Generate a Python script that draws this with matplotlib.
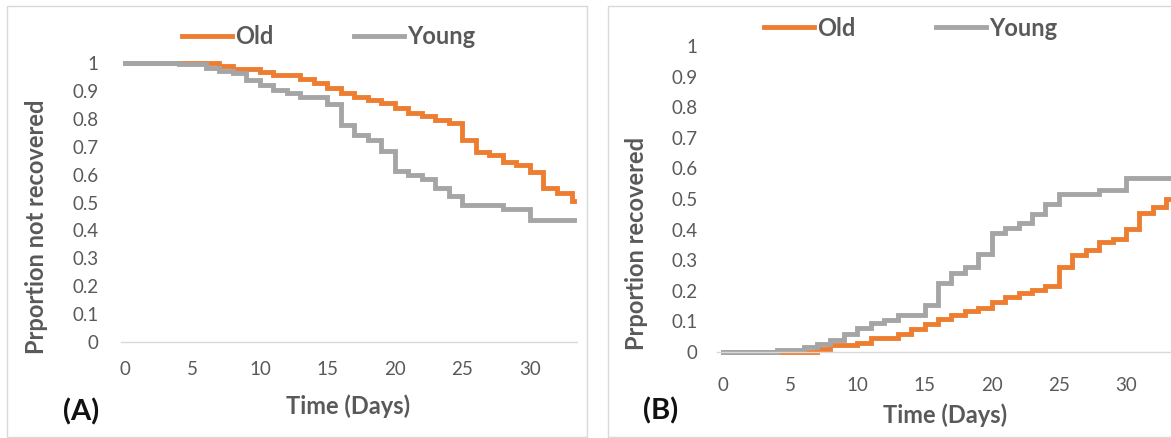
import matplotlib
matplotlib.use("Agg")
import matplotlib.pyplot as plt
from matplotlib.patches import Rectangle

# ---------------- data ----------------
# Panel A: proportion not recovered
days_old_A = [0, 7, 8, 10, 11, 13, 14, 15, 16, 17, 18, 19, 20, 21, 22, 23, 24,
              25, 26, 27, 28, 29, 30, 31, 32, 33.1, 33.3]
notrec_old = [1.0, 0.989, 0.977, 0.969, 0.956, 0.941, 0.927, 0.909, 0.891, 0.877,
              0.866, 0.857, 0.837, 0.82, 0.81, 0.797, 0.785, 0.724, 0.682, 0.67,
              0.646, 0.634, 0.61, 0.551, 0.533, 0.505, 0.505]
days_young_A = [0, 4, 6, 7, 8, 9, 10, 11, 12, 13, 15, 16, 17, 18, 19, 20, 21, 22,
                23, 24, 25, 28, 30, 33.3]
notrec_young = [1.0, 0.995, 0.983, 0.972, 0.963, 0.939, 0.921, 0.903, 0.891, 0.879,
                0.852, 0.777, 0.742, 0.723, 0.684, 0.612, 0.6, 0.585, 0.552, 0.522,
                0.492, 0.476, 0.436, 0.436]

# Panel B: proportion recovered
days_old_B = [0, 7, 8, 10, 11, 13, 14, 15, 16, 17, 18, 19, 20, 21, 22, 23, 24,
              25, 26, 27, 28, 29, 30, 31, 32, 33, 33.2]
rec_old = [0.0, 0.011, 0.022, 0.031, 0.046, 0.06, 0.075, 0.091, 0.108, 0.122, 0.133,
           0.143, 0.163, 0.18, 0.193, 0.203, 0.216, 0.278, 0.317, 0.333, 0.358,
           0.37, 0.403, 0.454, 0.474, 0.5, 0.5]
days_young_B = [0, 4, 6, 7, 8, 9, 10, 11, 12, 13, 15, 16, 17, 18, 19, 20, 21, 22,
                23, 24, 25, 28, 30, 33.2]
rec_young = [0.0, 0.005, 0.016, 0.027, 0.038, 0.06, 0.078, 0.095, 0.106, 0.121,
             0.152, 0.225, 0.258, 0.278, 0.32, 0.389, 0.404, 0.42, 0.452, 0.484,
             0.516, 0.528, 0.568, 0.568]

series_names = ["Old", "Young"]
series_colors = ["#ED7D31", "#A5A5A5"]
x_ticks = [0, 5, 10, 15, 20, 25, 30]
y_ticks = [0, 0.1, 0.2, 0.3, 0.4, 0.5, 0.6, 0.7, 0.8, 0.9, 1]
y_ticklabels = ["0", "0.1", "0.2", "0.3", "0.4", "0.5", "0.6", "0.7", "0.8", "0.9", "1"]

# ---------------- figure ----------------
W, H = 1171, 438
plt.rcParams['font.family'] = ['Lato', 'DejaVu Sans']
fig = plt.figure(figsize=(W / 100, H / 100), dpi=100)
fig.patch.set_facecolor("white")


def fx(px):
    return px / W


def fy(py):
    return 1 - py / H


TXT = "#595959"
LW = 3.5

# panel borders
fig.add_artist(Rectangle((fx(7), fy(437)), fx(587) - fx(7), fy(6) - fy(437),
                         transform=fig.transFigure, fill=False,
                         edgecolor="#D9D9D9", lw=1.0))
fig.add_artist(Rectangle((fx(608), fy(437)), fx(1200) - fx(608), fy(6) - fy(437),
                         transform=fig.transFigure, fill=False,
                         edgecolor="#D9D9D9", lw=1.0))


def make_axes(x0px, x1px, ytop, ybot, xlim):
    ax = fig.add_axes([fx(x0px), fy(ybot), fx(x1px) - fx(x0px), fy(ytop) - fy(ybot)])
    ax.set_xlim(*xlim)
    ax.set_ylim(0, 1)
    for s in ["top", "right", "left"]:
        ax.spines[s].set_visible(False)
    ax.spines["bottom"].set_color("#D9D9D9")
    ax.spines["bottom"].set_linewidth(1.0)
    ax.set_xticks(x_ticks)
    ax.set_yticks(y_ticks)
    ax.set_yticklabels(y_ticklabels)
    ax.patch.set_alpha(0)
    return ax


# Panel A
axA = make_axes(121, 577, 63, 342, (-0.3, 33.5))
axA.tick_params(axis="both", length=0, labelsize=13.5, labelcolor=TXT)
axA.tick_params(axis="x", pad=14)
axA.tick_params(axis="y", pad=16)
for d, v, c, n in [(days_old_A, notrec_old, series_colors[0], series_names[0]),
                   (days_young_A, notrec_young, series_colors[1], series_names[1])]:
    axA.step(d, v, where="post", color=c, lw=LW, label=n, clip_on=False,
             solid_joinstyle="miter")
axA.legend(loc="center", bbox_to_anchor=(fx(329), fy(37)), bbox_transform=fig.transFigure,
           ncol=2, frameon=False, handlelength=2.1, handletextpad=0.15,
           columnspacing=3.4, prop={"weight": "bold", "size": 17},
           labelcolor=TXT, borderpad=0)
fig.text(fx(348), fy(406), "Time (Days)", ha="center", va="center", fontsize=17,
         fontweight="bold", color=TXT)
fig.text(fx(37), fy(227), "Prportion not recovered", ha="center", va="center",
         rotation=90, fontsize=17, fontweight="bold", color=TXT)
fig.text(fx(81), fy(412), "(A)", ha="center", va="center", fontsize=21,
         fontweight="bold", color="#111111")

# Panel B
axB = make_axes(717, 1173, 46, 352, (-0.45, 33.5))
axB.tick_params(axis="both", length=0, labelsize=13.5, labelcolor=TXT)
axB.tick_params(axis="x", pad=18)
axB.tick_params(axis="y", pad=14)
for d, v, c, n in [(days_old_B, rec_old, series_colors[0], series_names[0]),
                   (days_young_B, rec_young, series_colors[1], series_names[1])]:
    axB.step(d, v, where="post", color=c, lw=LW, label=n, clip_on=False,
             solid_joinstyle="miter")
axB.legend(loc="center", bbox_to_anchor=(fx(911), fy(28)), bbox_transform=fig.transFigure,
           ncol=2, frameon=False, handlelength=2.1, handletextpad=0.15,
           columnspacing=3.4, prop={"weight": "bold", "size": 17},
           labelcolor=TXT, borderpad=0)
fig.text(fx(945), fy(415), "Time (Days)", ha="center", va="center", fontsize=17,
         fontweight="bold", color=TXT)
fig.text(fx(637), fy(243), "Prportion recovered", ha="center", va="center",
         rotation=90, fontsize=17, fontweight="bold", color=TXT)
fig.text(fx(661), fy(411), "(B)", ha="center", va="center", fontsize=21,
         fontweight="bold", color="#111111")

fig.savefig("out.png", dpi=100)
